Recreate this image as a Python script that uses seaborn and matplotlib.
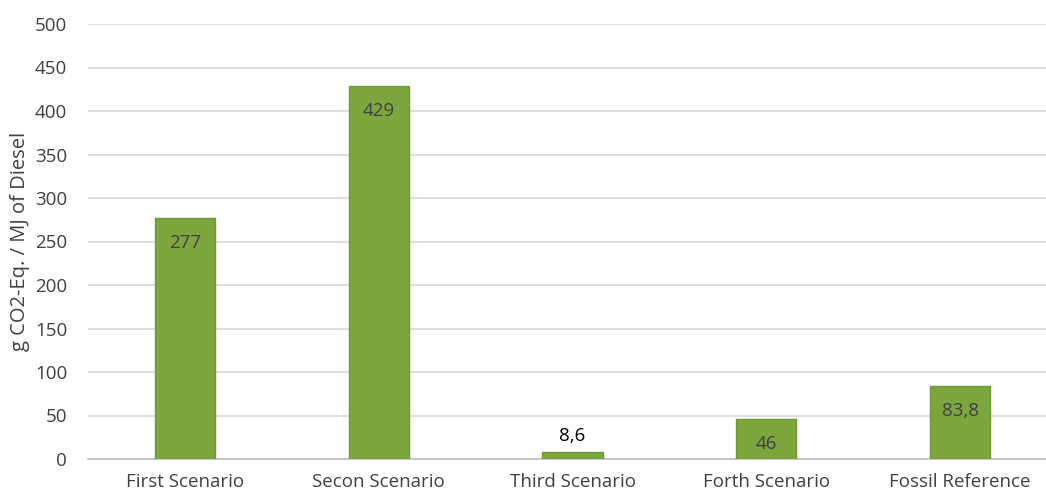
import matplotlib
matplotlib.use("Agg")
import matplotlib.pyplot as plt
import seaborn as sns
import pandas as pd

categories = ["First Scenario", "Secon Scenario", "Third Scenario", "Forth Scenario", "Fossil Reference"]
values = [277, 429, 8.6, 46, 83.8]
value_labels = ["277", "429", "8,6", "46", "83,8"]
y_ticks = [0, 50, 100, 150, 200, 250, 300, 350, 400, 450, 500]
y_label = "g CO2-Eq. / MJ of Diesel"

sns.set_style("white")
plt.rcParams['font.family'] = ['Open Sans', 'DejaVu Sans']

df = pd.DataFrame({"cat": categories, "val": values})

W, H = 1046, 495
fig = plt.figure(figsize=(W / 100, H / 100), dpi=100)
left, right, top, bottom = 88, 1057, 24, 459
ax = fig.add_axes([left / W, 1 - bottom / H, (right - left) / W, (bottom - top) / H])

sns.barplot(data=df, x="cat", y="val", color="#7DA63F", width=0.31,
            edgecolor="#6B9A30", linewidth=1, saturation=1, ax=ax, zorder=3)

ax.set_ylim(0, 500)
ax.set_xlim(-0.5, len(categories) - 0.5)
ax.set_yticks(y_ticks)
ax.set_yticklabels([str(t) for t in y_ticks])
ax.grid(axis="y", color="#D9D9D9", linewidth=1.2, zorder=0)
ax.set_axisbelow(True)
for s in ["top", "right", "left"]:
    ax.spines[s].set_visible(False)
ax.spines["bottom"].set_color("#BFBFBF")
ax.spines["bottom"].set_linewidth(1.2)
ax.tick_params(axis="both", length=0, labelsize=13.5, colors="#404040")
ax.tick_params(axis="y", pad=15)
ax.tick_params(axis="x", pad=10)
ax.set_xlabel("")
ax.set_ylabel(y_label, fontsize=14.5, color="#404040")
ax.yaxis.set_label_coords(-(88 - 30) / (right - left), 0.5)

for i, (v, lab) in enumerate(zip(values, value_labels)):
    if v > 30:
        ax.annotate(lab, (i, v), xytext=(0, -25), textcoords="offset pixels",
                    ha="center", va="center", fontsize=13.5, color="#404040")
    else:
        ax.annotate(lab, (i, v), xytext=(0, 16), textcoords="offset pixels",
                    ha="center", va="center", fontsize=13.5, color="#000000")

fig.savefig("out.png", dpi=100)
